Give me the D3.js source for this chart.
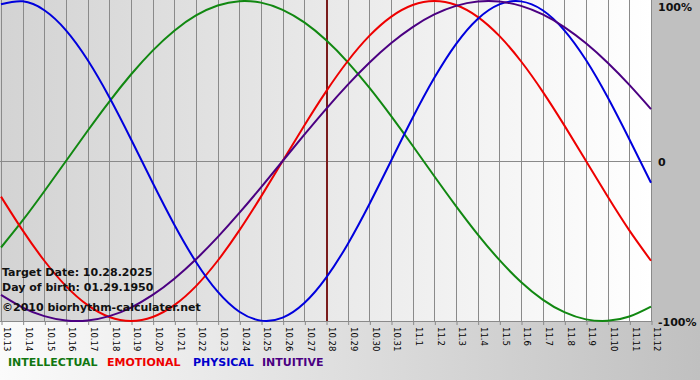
<!DOCTYPE html>
<html><head><meta charset="utf-8">
<script src="https://cdn.jsdelivr.net/npm/d3@7"></script>
<style>html,body{margin:0;padding:0;overflow:hidden;background:#c0c0c0}svg{display:block}</style>
</head><body><svg id="c" width="700" height="380"></svg>
<script>
// ---- data (values as fractions of 100%) ----
const days = ["10.13","10.14","10.15","10.16","10.17","10.18","10.19","10.20","10.21","10.22","10.23","10.24","10.25","10.26","10.27","10.28","10.29","10.30","10.31","11.1","11.2","11.3","11.4","11.5","11.6","11.7","11.8","11.9","11.10","11.11","11.12"];
const intellectual = [-0.5406,-0.3717,-0.1893,0,0.1893,0.3717,0.5406,0.6901,0.8146,0.9096,0.9718,0.9989,0.9898,0.9450,0.8660,0.7557,0.6182,0.4582,0.2817,0.0951,-0.0951,-0.2817,-0.4582,-0.6182,-0.7557,-0.8660,-0.9450,-0.9898,-0.9989,-0.9718,-0.9096];
const emotional = [-0.2225,-0.4339,-0.6235,-0.7818,-0.9010,-0.9749,-1,-0.9749,-0.9010,-0.7818,-0.6235,-0.4339,-0.2225,0,0.2225,0.4339,0.6235,0.7818,0.9010,0.9749,1,0.9749,0.9010,0.7818,0.6235,0.4339,0.2225,0,-0.2225,-0.4339,-0.6235];
const physical = [0.9791,0.9977,0.9423,0.8170,0.6311,0.3984,0.1362,-0.1362,-0.3984,-0.6311,-0.8170,-0.9423,-0.9977,-0.9791,-0.8879,-0.7308,-0.5196,-0.2698,0,0.2698,0.5196,0.7308,0.8879,0.9791,0.9977,0.9423,0.8170,0.6311,0.3984,0.1362,-0.1362];
const intuitive = [-0.8372,-0.9158,-0.9694,-0.9966,-0.9966,-0.9694,-0.9158,-0.8372,-0.7357,-0.6142,-0.4759,-0.3247,-0.1646,0,0.1646,0.3247,0.4759,0.6142,0.7357,0.8372,0.9158,0.9694,0.9966,0.9966,0.9694,0.9158,0.8372,0.7357,0.6142,0.4759,0.3247];
const seriesNames = ["INTELLECTUAL","EMOTIONAL","PHYSICAL","INTUITIVE"];
const yTickValues = [1, 0, -1];
const yTickLabels = ["100%", "0", "-100%"];
const targetDay = "10.28";
const infoLines = ["Target Date: 10.28.2025", "Day of birth: 01.29.1950", "\u00a92010 biorhythm-calculater.net"];

// ---- drawing ----
const W = 700, H = 380;
const plot = {left: 1, right: 651, top: 1, bottom: 321};
const colors = ["#118811", "#ee0000", "#0000dd", "#4b0082"];
const legendColors = ["#117711", "#ee0000", "#0000cc", "#4b0082"];
const seriesData = [intellectual, emotional, physical, intuitive];

const svg = d3.select("#c");
const defs = svg.append("defs");
const gOuter = defs.append("linearGradient").attr("id","gOuter").attr("x1","0").attr("x2","1").attr("y1","0").attr("y2","0");
gOuter.append("stop").attr("offset","0").attr("stop-color","#fbfbfb");
gOuter.append("stop").attr("offset","1").attr("stop-color","#c0c0c0");
const gPlot = defs.append("linearGradient").attr("id","gPlot").attr("x1","0").attr("x2","1").attr("y1","0").attr("y2","0");
gPlot.append("stop").attr("offset","0").attr("stop-color","#d3d3d3");
gPlot.append("stop").attr("offset","1").attr("stop-color","#ffffff");
defs.append("clipPath").attr("id","clip").append("rect")
  .attr("x", 0).attr("y", 0).attr("width", plot.right + 1).attr("height", plot.bottom + 1);

svg.append("rect").attr("width", W).attr("height", H).attr("fill", "url(#gOuter)");
svg.append("rect").attr("x", 652).attr("y", 0).attr("width", 48).attr("height", 322).attr("fill", "#c0c0c0");
svg.append("rect").attr("x", 0).attr("y", 0).attr("width", plot.right).attr("height", plot.bottom).attr("fill", "url(#gPlot)");

const x = d3.scalePoint().domain(days).range([plot.left, plot.right]);
const y = d3.scaleLinear().domain([-1, 1]).range([plot.bottom, plot.top]);

// vertical grid
svg.append("g").selectAll("line").data(days).join("line")
  .attr("x1", d => Math.round(x(d)) + 0.5).attr("x2", d => Math.round(x(d)) + 0.5)
  .attr("y1", 0).attr("y2", plot.bottom)
  .attr("stroke", "#8a8a8a").attr("stroke-width", 1);
// zero line
svg.append("line").attr("x1", 0).attr("x2", plot.right).attr("y1", Math.round(y(0)) + 0.5).attr("y2", Math.round(y(0)) + 0.5)
  .attr("stroke", "#8a8a8a");
// bottom border
svg.append("line").attr("x1", 0).attr("x2", plot.right + 1).attr("y1", plot.bottom + 0.5).attr("y2", plot.bottom + 0.5)
  .attr("stroke", "#8a8a8a");

// x axis
const xAxis = d3.axisBottom(x).tickSize(4).tickPadding(2);
const gx = svg.append("g").attr("transform", `translate(0,${plot.bottom})`).call(xAxis);
gx.select(".domain").remove();
gx.selectAll(".tick line").attr("stroke", "#8a8a8a").attr("transform", "translate(0.5,0)");
gx.selectAll(".tick text")
  .attr("font-family", "DejaVu Sans, Verdana, sans-serif").attr("font-size", 8.5).attr("fill", "#000")
  .attr("text-anchor", "start").attr("transform", "rotate(90)")
  .attr("x", 6).attr("y", 0).attr("dy", "-0.35em");

// target line
svg.append("line").attr("x1", x(targetDay) + 1).attr("x2", x(targetDay) + 1).attr("y1", 0).attr("y2", plot.bottom)
  .attr("stroke", "#7a1c1c").attr("stroke-width", 2);

// curves
const line = d3.line().x((d, i) => x(days[i])).y(d => y(d)).curve(d3.curveNatural);
svg.append("g").attr("clip-path", "url(#clip)").selectAll("path").data(seriesData).join("path")
  .attr("d", d => line(d)).attr("fill", "none")
  .attr("stroke", (d, i) => colors[i]).attr("stroke-width", 2);

// y labels
svg.append("g").selectAll("text").data(yTickValues).join("text")
  .attr("x", 658).attr("y", d => Math.max(y(d) + 5, 11))
  .attr("font-family", "DejaVu Sans, Verdana, sans-serif").attr("font-weight", "bold").attr("font-size", 11)
  .attr("fill", "#111").text((d, i) => yTickLabels[i]);

// info text
svg.append("g").selectAll("text").data(infoLines).join("text")
  .attr("x", 2).attr("y", (d, i) => [276, 291, 311][i])
  .attr("font-family", "DejaVu Sans, Verdana, sans-serif").attr("font-weight", "bold").attr("font-size", 11)
  .attr("fill", "#111").text(d => d);

// legend
const legendX = [8, 107, 193, 262];
svg.append("g").selectAll("text").data(seriesNames).join("text")
  .attr("x", (d, i) => legendX[i]).attr("y", 366)
  .attr("font-family", "DejaVu Sans, Verdana, sans-serif").attr("font-weight", "bold").attr("font-size", 11)
  .attr("fill", (d, i) => legendColors[i]).text(d => d);
</script>
</body></html>
